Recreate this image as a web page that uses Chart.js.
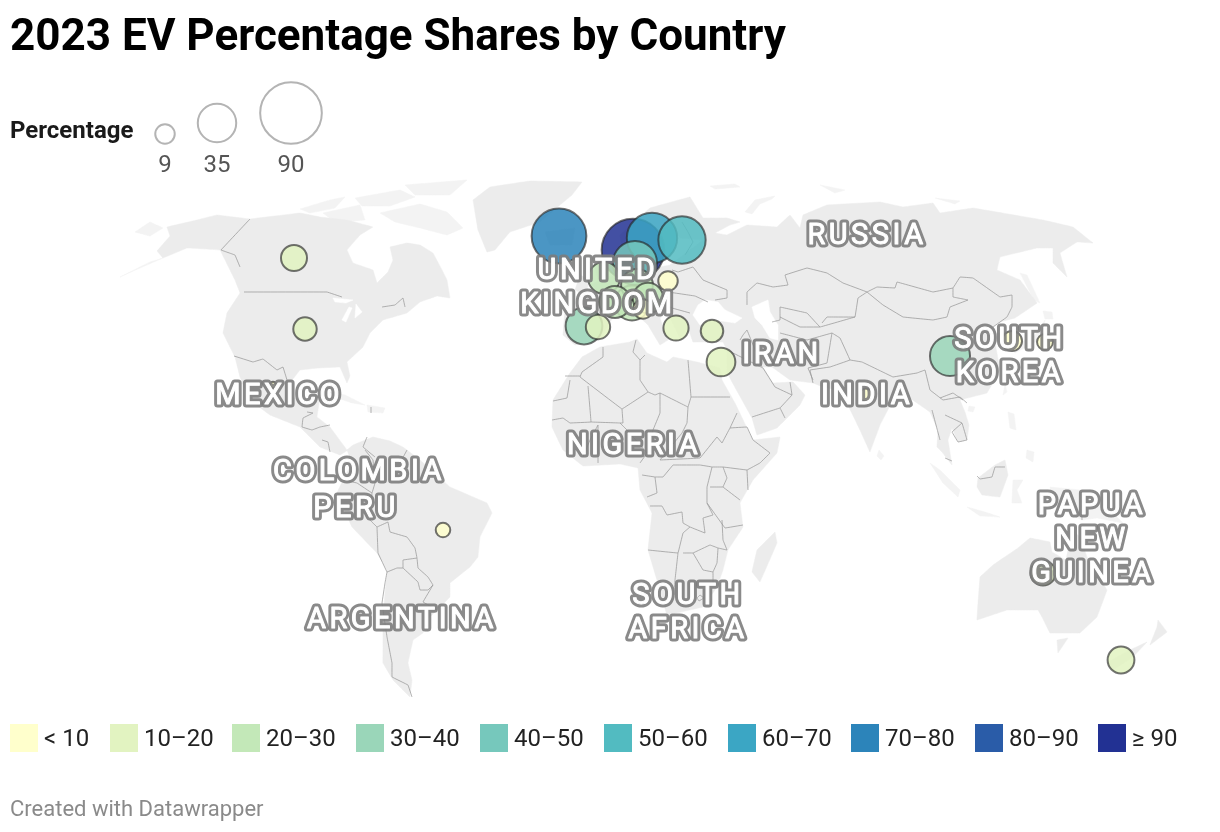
<!DOCTYPE html>
<html>
<head>
<meta charset="utf-8">
<title>2023 EV Percentage Shares by Country</title>
<script src="https://cdn.jsdelivr.net/npm/chart.js@4/dist/chart.umd.min.js"></script>
<style>
  html, body { margin: 0; padding: 0; background: #fff; }
  body { width: 1220px; height: 832px; position: relative; overflow: hidden; font-family: Roboto, sans-serif; }
  #map { position: absolute; left: 0; top: 0; }
  .txt { position: absolute; white-space: nowrap; line-height: 1; }
  #title { left: 10px; top: 13px; font-size: 44px; font-weight: 700; color: #000; }
  #sizeTitle { left: 10px; top: 118px; font-size: 24px; font-weight: 700; color: #1a1a1a; }
  .sizeLabel { top: 152px; font-size: 24px; color: #555; transform: translateX(-50%); }
  .swatch { position: absolute; top: 724px; width: 28px; height: 28px; }
  .binLabel { top: 726px; font-size: 24px; color: #222; }
  #credit { left: 10px; top: 798px; font-size: 22px; color: #8a8a8a; }
</style>
</head>
<body>
<canvas id="map" width="1220" height="832"></canvas>
<div class="txt" id="title">2023 EV Percentage Shares by Country</div>
<div class="txt" id="sizeTitle">Percentage</div>
<div class="txt" id="credit">Created with Datawrapper</div>
<script>
// bubbles, in map units (1 unit = 1 px of the 1220x832 frame)
const countries = ["Norway", "Iceland", "Sweden", "Finland", "Denmark", "China", "Portugal", "Switzerland", "UK", "Germany", "France", "Austria", "Israel", "Canada", "New Zealand", "Greece", "Australia", "Spain", "USA", "Turkey", "Japan", "Italy", "Poland", "South Korea", "Brazil", "India", "Mexico"];
const mapX = [633, 559, 652, 682, 635, 950, 584, 632, 604, 637, 615, 648, 721, 294, 1121, 676, 1043, 598, 305, 712, 1012, 643, 668, 1045, 443, 866, 273];
const mapY = [250, 236, 238, 240, 263, 356, 326, 303, 278, 285, 302, 298, 362, 258, 660, 328, 573, 327, 329, 331, 341, 309, 281, 342, 530, 395, 385];
const shares = [93, 71, 60, 53, 46, 38, 32, 29, 24, 24, 24, 22, 19.5, 16, 17, 15, 15, 14, 13, 12, 9.5, 9, 9, 6, 5, 4, 1];

const binLabels = ["< 10", "10–20", "20–30", "30–40", "40–50", "50–60", "60–70", "70–80", "80–90", "≥ 90"];
const binColors = ["#ffffcc", "#e2f3c1", "#c3e8b8", "#9ad6b9", "#76c8bc", "#52bbc1", "#3ba6c4", "#2c84ba", "#2a5ca8", "#223193"];
const binLeft = [10, 110, 232, 356, 480, 604, 728, 851, 975, 1098];

const sizeValues = [9, 35, 90];
const sizeX = [165, 217, 291];
const sizeY = [134, 123, 113];

const labelLines = ["RUSSIA", "IRAN", "INDIA", "SOUTH", "KOREA", "MEXICO", "COLOMBIA", "PERU", "NIGERIA", "UNITED", "KINGDOM", "ARGENTINA", "SOUTH", "AFRICA", "PAPUA", "NEW", "GUINEA"];
const labelX = [867, 782, 867, 1010, 1010, 279, 359, 356, 634, 598, 598, 402, 688, 688, 1092, 1092, 1093];
const labelY = [234, 353, 394, 338, 372, 394, 470, 507, 444, 269, 303, 618, 594, 628, 504, 538, 572];

// land outlines
const land = [
  // north america
  [[157,251],[170,236],[167,227],[197,220],[217,215],[250,219],[300,213],[320,217],[347,220],[373,227],[360,235],[347,250],[353,263],[373,270],[377,283],[388,272],[393,260],[390,247],[407,243],[420,245],[433,253],[441,268],[447,280],[450,298],[437,296],[420,302],[407,313],[383,320],[370,333],[363,347],[347,362],[350,376],[347,383],[340,367],[318,368],[300,370],[290,383],[292,397],[310,403],[320,397],[317,417],[330,427],[347,450],[353,447],[340,455],[320,447],[300,427],[270,415],[250,400],[240,377],[235,357],[223,333],[227,313],[240,293],[235,280],[220,250],[187,248],[163,258],[157,251]],
  // greenland
  [[473,200],[490,187],[530,181],[582,182],[572,195],[560,205],[540,222],[510,232],[495,250],[487,252],[478,230],[473,200]],
  // south america
  [[347,450],[353,445],[373,437],[390,441],[403,447],[420,460],[450,487],[487,503],[492,513],[480,537],[478,557],[470,567],[450,583],[450,597],[427,620],[423,633],[413,640],[408,663],[412,680],[410,697],[393,680],[383,663],[383,647],[383,617],[387,570],[377,553],[352,527],[337,493],[343,480],[352,463],[347,450]],
  // africa
  [[582,357],[600,347],[630,342],[637,339],[647,353],[667,362],[673,357],[697,362],[720,368],[722,380],[735,403],[748,430],[753,440],[780,437],[777,453],[753,480],[740,503],[743,527],[728,550],[723,570],[717,587],[703,607],[667,615],[657,580],[648,550],[652,513],[640,490],[638,468],[620,464],[583,466],[563,450],[552,427],[553,400],[570,373],[582,357]],
  [[775,532],[777,543],[760,582],[752,572],[757,550],[775,532]],
  // eurasia
  [[565,310],[595,305],[603,290],[590,285],[600,280],[615,275],[630,265],[640,255],[645,268],[655,268],[670,265],[690,250],[703,240],[680,238],[672,225],[655,240],[650,262],[635,258],[623,255],[620,235],[650,208],[690,197],[703,218],[727,218],[740,222],[730,225],[715,233],[727,235],[747,225],[777,227],[790,215],[800,228],[803,215],[827,205],[880,202],[903,207],[933,203],[940,213],[973,208],[1043,220],[1073,227],[1093,243],[1077,242],[1060,253],[1067,277],[1053,263],[1053,248],[1037,248],[1000,257],[997,270],[1020,280],[1037,303],[1015,318],[1000,322],[993,327],[985,335],[1005,332],[1010,345],[995,342],[1000,370],[987,393],[960,400],[965,412],[969,425],[967,440],[958,442],[952,428],[948,440],[952,465],[942,452],[937,447],[938,430],[930,412],[917,403],[907,396],[893,400],[880,425],[870,452],[860,430],[843,395],[837,390],[823,387],[813,383],[790,380],[772,367],[763,367],[773,383],[793,382],[805,395],[800,405],[777,428],[757,435],[752,418],[742,400],[731,380],[727,372],[727,350],[723,342],[693,342],[688,328],[680,338],[672,322],[668,312],[660,318],[668,340],[660,345],[648,325],[632,310],[617,312],[610,322],[600,340],[575,345],[563,335],[565,310]],
  // british isles, iceland
  [[592,255],[600,260],[607,290],[613,298],[590,300],[598,280],[592,255]],
  [[580,275],[590,280],[585,295],[575,290],[580,275]],
  [[545,232],[575,228],[572,245],[550,245],[545,232]],
  // borneo, new guinea, australia
  [[978,478],[995,465],[1005,460],[1008,475],[1000,497],[982,495],[977,487],[978,478]],
  [[980,577],[993,565],[1018,548],[1030,538],[1050,542],[1052,552],[1066,560],[1072,530],[1080,537],[1087,557],[1107,590],[1097,617],[1080,633],[1050,633],[1042,617],[1038,610],[1007,610],[977,620],[978,603],[980,577]],
  [[1057,640],[1068,638],[1058,653],[1057,640]],
  [[1158,620],[1167,632],[1150,645],[1157,627],[1158,620]],
  [[1147,642],[1133,657],[1113,670],[1108,662],[1130,650],[1147,642]]
];

// small broken-up land, which reads paler in the picture
const faintLand = [
  [[120,277],[150,262],[163,258],[140,268],[120,277]],
  [[135,232],[150,222],[163,228],[150,236],[135,232]],
  [[380,213],[420,204],[447,212],[463,228],[447,235],[420,228],[395,222],[380,213]],
  [[323,213],[360,205],[365,220],[335,222],[323,213]],
  [[300,209],[330,200],[345,197],[335,208],[310,213],[300,209]],
  [[355,198],[400,190],[415,197],[390,206],[362,206],[355,198]],
  [[405,185],[467,180],[450,195],[415,195],[405,185]],
  [[330,392],[345,395],[365,405],[352,403],[335,397],[330,392]],
  [[367,405],[385,408],[383,413],[368,412],[367,405]],
  [[745,212],[755,200],[775,196],[772,199],[760,204],[752,214],[745,212]],
  [[710,186],[735,184],[740,187],[715,189],[710,186]],
  [[820,185],[845,190],[835,193],[820,185]],
  [[935,198],[960,201],[955,204],[935,198]],
  [[1020,273],[1027,275],[1040,303],[1034,300],[1020,273]],
  [[1043,311],[1052,312],[1053,319],[1045,319],[1043,311]],
  [[1045,320],[1042,338],[1015,353],[1012,347],[1035,335],[1045,320]],
  [[1005,384],[1007,392],[1003,395],[1005,384]],
  [[969,406],[975,407],[973,412],[968,411],[969,406]],
  [[879,450],[884,456],[881,460],[877,456],[879,450]],
  [[1008,412],[1014,414],[1016,430],[1010,428],[1008,412]],
  [[1027,450],[1034,452],[1033,462],[1026,458],[1027,450]],
  [[930,463],[940,470],[960,490],[958,497],[943,483],[930,463]],
  [[967,507],[985,512],[1000,517],[980,516],[967,507]],
  [[1013,480],[1023,480],[1017,490],[1022,503],[1012,503],[1013,480]],
  [[1050,487],[1080,490],[1107,507],[1123,523],[1097,518],[1082,520],[1057,507],[1050,487]]
];

// seas that cut into the land
const water = [
  [[698,305],[705,300],[718,302],[725,310],[742,318],[735,323],[715,320],[700,325],[693,315],[698,305]],
  [[752,307],[768,300],[770,312],[778,325],[778,340],[770,338],[762,325],[755,318],[752,307]],
  [[333,298],[353,300],[346,303],[335,302],[333,298]],
  [[349,307],[352,308],[346,322],[342,320],[349,307]],
  [[356,304],[362,312],[355,318],[356,304]]
];

// country borders
const borders = [
  [[250,219],[221,250],[235,255],[240,267]],
  [[244,292],[327,292],[342,297]],
  [[382,307],[395,305],[403,298],[405,307]],
  [[234,356],[253,362],[263,359],[277,370],[283,367],[287,380]],
  [[307,412],[313,413],[303,418],[302,427],[312,430],[320,427],[330,425]],
  [[322,440],[328,442],[330,452]],
  [[371,407],[371,413]],
  [[367,437],[363,447],[375,457]],
  [[343,480],[357,483],[372,493],[375,483],[373,460],[365,450]],
  [[407,450],[400,463]],
  [[372,493],[370,520],[377,527],[388,522]],
  [[377,527],[378,553],[387,572],[397,568],[403,568],[403,560],[417,558],[415,548],[407,537],[390,532],[388,522]],
  [[403,568],[418,582],[420,590],[428,590],[433,585],[428,577],[418,568],[417,558]],
  [[433,585],[423,602],[437,610]],
  [[387,572],[385,583],[382,603],[387,637],[392,663],[392,677],[408,685],[412,697]],
  // africa
  [[603,347],[603,357],[582,372],[580,377],[622,409],[648,392],[640,380],[640,360],[633,352],[636,340]],
  [[565,376],[580,376]],
  [[645,355],[640,360]],
  [[648,392],[655,395],[660,393],[688,407],[691,397],[688,360]],
  [[691,397],[730,397]],
  [[688,407],[687,423],[682,433],[660,460]],
  [[622,409],[623,423],[620,423],[627,430],[647,453],[640,463]],
  [[570,380],[567,398],[553,401]],
  [[588,386],[591,422],[570,423],[563,418],[552,420]],
  [[660,393],[660,413],[653,430],[647,453]],
  [[591,422],[620,423]],
  [[598,425],[598,463]],
  [[583,457],[590,440],[598,425]],
  [[660,460],[700,458],[717,437],[722,443],[730,428],[747,427],[753,440],[770,453],[760,463],[747,470],[723,467],[712,467]],
  [[737,413],[730,428]],
  [[673,465],[700,465],[712,467],[707,487],[707,503],[713,515],[703,518],[705,533],[690,527],[683,523],[682,512],[667,515],[662,506],[650,506]],
  [[673,465],[663,477],[655,477],[657,493],[647,497]],
  [[642,475],[655,477]],
  [[723,467],[727,478],[723,487],[740,500]],
  [[747,470],[748,490]],
  [[710,487],[723,487]],
  [[707,503],[725,528],[743,525]],
  [[648,550],[678,553],[683,533],[690,527]],
  [[678,553],[675,580],[674,595]],
  [[683,553],[693,553],[703,570],[713,572],[713,583]],
  [[693,553],[710,545],[718,548],[717,563],[713,572]],
  [[722,520],[723,540],[727,550],[718,548]],
  [[700,595],[704,598],[699,601],[697,598],[700,595]],
  // middle east, central asia
  [[752,417],[780,408],[785,418]],
  [[780,408],[792,395],[790,382]],
  [[763,368],[775,387],[792,395]],
  [[740,340],[743,335],[747,330],[762,367]],
  [[727,350],[763,368]],
  [[808,368],[813,380]],
  [[808,368],[827,363],[832,333],[840,338],[850,360],[830,367],[810,370],[813,383]],
  [[780,307],[780,320],[772,322]],
  [[780,333],[807,340],[832,333]],
  [[780,307],[807,313],[820,327],[855,317]],
  [[780,317],[800,327],[820,327]],
  [[747,305],[747,292],[757,283],[773,287],[788,285],[785,275],[807,268],[827,273],[843,283],[867,292],[858,298],[855,317],[827,317],[822,323]],
  [[867,292],[877,287],[895,288],[897,282],[933,292],[953,288],[960,277],[973,278],[1000,297],[1012,295],[1012,307],[1007,317],[993,327]],
  [[867,292],[883,305],[903,317],[933,320],[947,317],[950,307],[968,300],[953,297],[953,288]],
  [[672,270],[678,272],[693,267],[703,280],[727,290],[727,298],[715,300]],
  [[682,222],[688,232],[693,242],[685,255]],
  [[668,292],[695,296],[708,302]],
  [[655,300],[672,308],[690,313]],
  [[850,360],[862,362],[893,377]],
  [[893,377],[917,373],[925,370],[930,390],[943,400],[960,397],[967,403]],
  [[932,410],[940,440]],
  [[940,398],[953,393],[963,400]],
  [[945,415],[962,423],[967,440],[958,442],[952,432],[962,423]],
  [[945,458],[952,461]],
  [[977,476],[980,479],[992,477],[995,467],[1005,467]],
  [[1081,492],[1082,520]]
];

function shareColor(share) {
  return binColors[Math.min(Math.floor(share / 10), 9)];
}

function shareRadius(share) {
  return 3.25 * Math.sqrt(share);
}

function withAlpha(hex, alpha) {
  const n = parseInt(hex.slice(1), 16);
  return `rgba(${n >> 16}, ${(n >> 8) & 255}, ${n & 255}, ${alpha})`;
}

function toPoints(outline) {
  return outline.map((p) => ({ x: p[0], y: p[1] }));
}

function shapeDataset(outline, color) {
  return {
    type: "line",
    data: toPoints(outline),
    borderColor: color,
    borderWidth: 0.5,
    backgroundColor: color,
    fill: "shape",
    pointRadius: 0,
    tension: 0.01,
  };
}

// join all border lines into one dataset, with gaps between them
const borderPoints = [];
borders.forEach((line) => {
  borderPoints.push(...toPoints(line), { x: NaN, y: NaN });
});

const mapLabels = {
  id: "mapLabels",
  afterDatasetsDraw(chart) {
    const { ctx, scales } = chart;
    ctx.save();
    ctx.font = "400 29px Roboto";
    ctx.letterSpacing = "3.5px";
    ctx.textAlign = "center";
    ctx.textBaseline = "middle";
    ctx.lineJoin = "round";
    labelLines.forEach((text, i) => {
      const x = scales.x.getPixelForValue(labelX[i]);
      // middle baseline sits a little high for capitals
      const y = scales.y.getPixelForValue(labelY[i]) + 3;
      ctx.lineWidth = 7;
      ctx.strokeStyle = "rgba(125, 125, 125, 0.9)";
      ctx.strokeText(text, x, y);
      ctx.lineWidth = 1;
      ctx.strokeStyle = "#fff";
      ctx.strokeText(text, x, y);
      ctx.fillStyle = "#fff";
      ctx.fillText(text, x, y);
    });
    ctx.restore();
  },
};

function initChart() {
  const ctx = document.getElementById("map").getContext("2d");

  const datasets = [
    ...faintLand.map((outline) => shapeDataset(outline, "#f3f3f3")),
    ...land.map((outline) => shapeDataset(outline, "#ececec")),
    ...water.map((outline) => shapeDataset(outline, "#ffffff")),
    {
      type: "line",
      data: borderPoints,
      borderColor: "#929292",
      borderWidth: 0.7,
      fill: false,
      pointRadius: 0,
      tension: 0.01,
      spanGaps: false,
    },
    {
      type: "bubble",
      label: "Percentage",
      data: countries.map((name, i) => ({
        x: mapX[i],
        y: mapY[i],
        r: shareRadius(shares[i]),
      })),
      backgroundColor: shares.map((s) => withAlpha(shareColor(s), 0.85)),
      borderColor: "rgba(40, 40, 40, 0.65)",
      borderWidth: 2,
    },
    {
      type: "bubble",
      label: "Size legend",
      data: sizeValues.map((v, i) => ({
        x: sizeX[i],
        y: sizeY[i],
        r: shareRadius(v),
      })),
      backgroundColor: "rgba(255, 255, 255, 0)",
      borderColor: "#b4b4b4",
      borderWidth: 2,
    },
  ];

  new Chart(ctx, {
    // Chart.js paints the first dataset last, so flip to get land at the bottom
    data: { datasets: datasets.reverse() },
    options: {
      responsive: false,
      animation: false,
      events: [],
      layout: { padding: 0, autoPadding: false },
      plugins: {
        legend: { display: false },
        tooltip: { enabled: false },
      },
      scales: {
        x: { type: "linear", min: 0, max: 1220, display: false },
        y: { type: "linear", min: 0, max: 832, reverse: true, display: false },
      },
    },
    plugins: [mapLabels],
  });
}

function buildLegends() {
  binLabels.forEach((text, i) => {
    const box = document.createElement("div");
    box.className = "swatch";
    box.style.left = binLeft[i] + "px";
    box.style.background = binColors[i];
    document.body.appendChild(box);

    const label = document.createElement("div");
    label.className = "txt binLabel";
    label.style.left = binLeft[i] + 34 + "px";
    label.textContent = text;
    document.body.appendChild(label);
  });

  sizeValues.forEach((v, i) => {
    const label = document.createElement("div");
    label.className = "txt sizeLabel";
    label.style.left = sizeX[i] + "px";
    label.textContent = v;
    document.body.appendChild(label);
  });
}

buildLegends();
initChart();
</script>
</body>
</html>
